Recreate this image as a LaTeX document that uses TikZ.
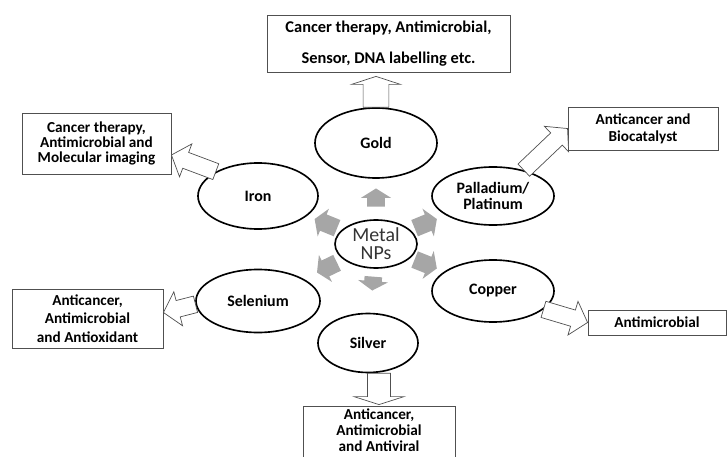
\documentclass[tikz,border=0pt]{standalone}
\usepackage{fontspec}
\setmainfont{Carlito}
\usetikzlibrary{shapes.geometric,calc}

\tikzset{
  metal/.style={draw=black, line width=1.4pt, ellipse, inner sep=0pt, align=center,
    font=\bfseries\fontsize{13.6}{13}\selectfont},
  usebox/.style={draw=linegray, line width=0.7pt, inner sep=0pt, align=center,
    font=\bfseries\fontsize{13}{13}\selectfont},
  hollow/.style={draw=linegray, fill=white, line width=0.6pt, line join=miter},
  grayarrow/.style={fill=arrowgray},
}

% block arrow: style, tail, tip, half shaft, half head, head length
\newcommand{\blockarrow}[6]{%
  \path[#1] let \p1=#2, \p2=#3, \n1={atan2(\y2-\y1,\x2-\x1)}, \n2={veclen(\x2-\x1,\y2-\y1)} in
    [shift={(\p1)}, rotate=\n1] (0pt,-#4) -- ({\n2-#6},-#4) -- ({\n2-#6},-#5) -- (\n2,0pt)
    -- ({\n2-#6},#5) -- ({\n2-#6},#4) -- (0pt,#4) -- cycle;
}

\begin{document}
\begin{tikzpicture}[x=0.03cm, y=-0.03cm]
    % Define colors
    \definecolor{arrowgray}{RGB}{166,166,166}
    \definecolor{linegray}{RGB}{80,80,80}

    \useasboundingbox (0,0) rectangle (728,457);
    \clip (0,0) rectangle (728,457);

    % Draw the metal nanoparticles
    \node[metal, minimum width=2.46cm, minimum height=1.44cm, text=black!80,
      font=\fontsize{17}{15.5}\selectfont] (nps) at (376,244) {Metal\\NPs};
    \node[metal, minimum width=3.66cm, minimum height=2.1cm] (gold) at (376,143) {Gold};
    \node[metal, minimum width=3.6cm, minimum height=1.98cm] (iron) at (258,196) {Iron};
    \node[metal, minimum width=3.66cm, minimum height=1.74cm] (pall) at (493,196) {Palladium/\\Platinum};
    \node[metal, minimum width=3.72cm, minimum height=1.89cm] (sel) at (258,301) {Selenium};
    \node[metal, minimum width=3.66cm, minimum height=1.86cm] (copper) at (493,291) {Copper};
    \node[metal, minimum width=3.0cm, minimum height=1.77cm] (silver) at (368,343) {Silver};

    % Draw the applications
    \node[usebox, minimum width=7.29cm, minimum height=1.71cm, font=\bfseries\fontsize{14}{16}\selectfont]
      (topbox) at (388.5,43.5) {Cancer therapy, Antimicrobial,\\[10pt]Sensor, DNA labelling etc.};
    \node[usebox, minimum width=4.47cm, minimum height=1.83cm] (ironbox) at (96.5,143.5)
      {Cancer therapy,\\Antimicrobial and\\Molecular imaging};
    \node[usebox, minimum width=4.5cm, minimum height=1.29cm, font=\bfseries\fontsize{13}{14.5}\selectfont]
      (pallbox) at (643,128.5) {Anticancer and\\Biocatalyst};
    \node[usebox, minimum width=4.53cm, minimum height=1.77cm, font=\bfseries\fontsize{13}{16}\selectfont]
      (selbox) at (87.5,318.5) {Anticancer,\\Antimicrobial\\and Antioxidant};
    \node[usebox, minimum width=4.14cm, minimum height=0.75cm] (copperbox) at (657,322.5) {Antimicrobial};
    \node[usebox, minimum width=4.56cm, minimum height=1.8cm, text depth=10pt,
      font=\bfseries\fontsize{13}{14}\selectfont]
      (silverbox) at (379,436) {Anticancer,\\Antimicrobial\\and Antiviral};

    % Hollow arrows from the metals to the boxes
    \blockarrow{hollow}{(gold.north)}{($(gold.north |- topbox.south)+(0,4)$)}{11pt}{20.8pt}{6.8pt}
    \blockarrow{hollow}{(silverbox.north |- silver.south)}{($(silverbox.north)+(0,-1)$)}{9.8pt}{21.3pt}{6.8pt}
    \blockarrow{hollow}{(iron.150)}{($(ironbox.east)+(0,11.5)$)}{7.2pt}{15pt}{13pt}
    \blockarrow{hollow}{(pall.40)}{(pallbox.west)}{7.2pt}{15pt}{13pt}
    \blockarrow{hollow}{(sel.183)}{($(selbox.east)+(0,-6)$)}{7.2pt}{15pt}{13pt}
    \blockarrow{hollow}{(copper.-20)}{(copperbox.west)}{7.2pt}{15pt}{13pt}

    % Gray arrows round the centre
    \foreach \t/\a/\b in {gold/0.37/0.55, silver/0.33/0.47, iron/0.33/0.52,
                          pall/0.33/0.52, sel/0.33/0.5, copper/0.33/0.52}{
      \blockarrow{grayarrow}{($(nps)!\a!(\t)$)}{($(nps)!\b!(\t)$)}{7.5pt}{12.8pt}{8pt}
    }
\end{tikzpicture}
\end{document}
